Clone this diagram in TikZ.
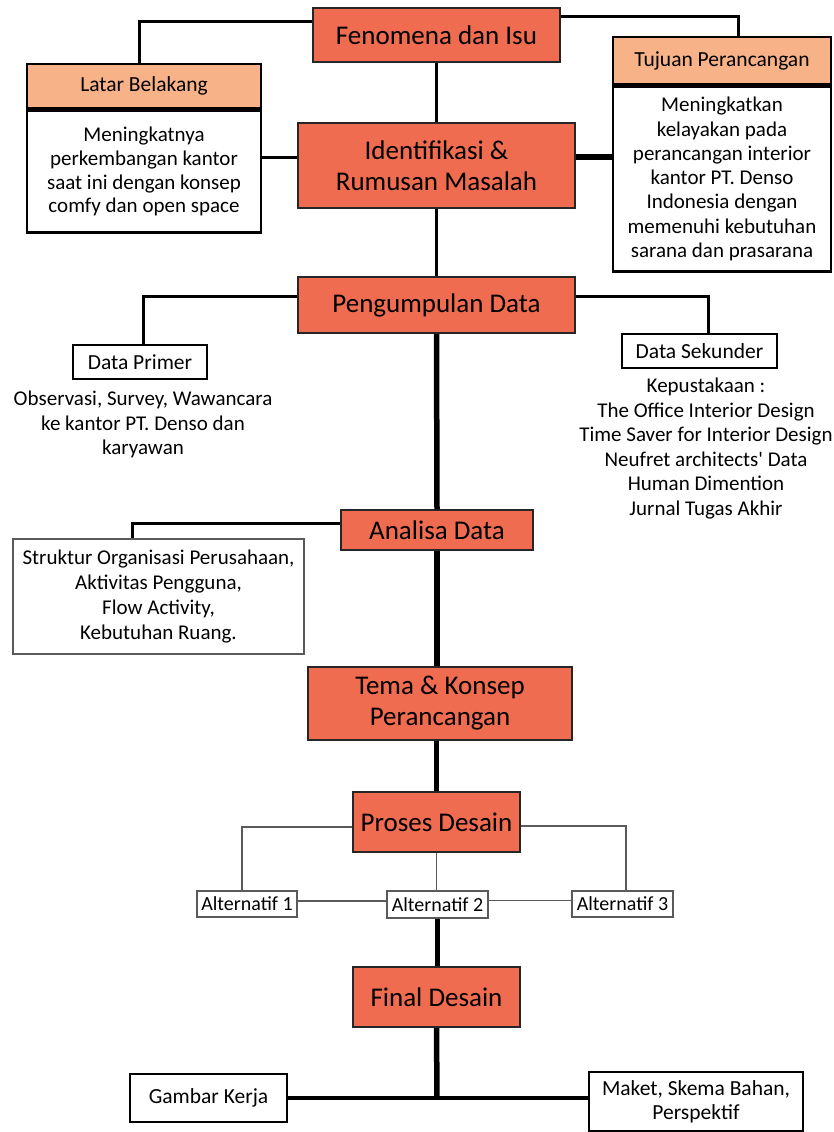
\documentclass[tikz,border=0pt]{standalone}
\usepackage{fontspec}
\setmainfont{Carlito}
\usetikzlibrary{calc}
\definecolor{mainor}{RGB}{240,108,80}
\definecolor{lightor}{RGB}{248,178,136}
\definecolor{thing}{RGB}{90,90,90}
\begin{document}
\begin{tikzpicture}[x=1pt,y=-1pt,
  mainbox/.style={draw=black!85,line width=2pt,fill=mainor,inner sep=0pt,align=center,font=\fontsize{27}{31}\selectfont},
  headbox/.style={draw=black,line width=2.5pt,fill=lightor,inner sep=0pt,align=center,font=\fontsize{21.5}{24}\selectfont},
  bodybox/.style={draw=black,line width=2.5pt,fill=white,inner sep=0pt,align=center,font=\fontsize{21}{23.8}\selectfont},
  labbox/.style={draw=black,line width=2.5pt,fill=white,inner sep=0pt,align=center,font=\fontsize{21.5}{24}\selectfont},
  graybox/.style={draw=thing,line width=1.3pt,fill=white,inner sep=0pt,align=center,font=\fontsize{21}{24.7}\selectfont},
  altbox/.style={draw=thing,line width=1.2pt,fill=white,inner sep=0pt,align=center,font=\fontsize{20}{22}\selectfont},
  freetxt/.style={inner sep=0pt,align=center,font=\fontsize{21}{24.5}\selectfont},
  conn/.style={draw=black,line width=3pt},
  thick conn/.style={draw=black,line width=5.5pt},
  thin conn/.style={draw=thing,line width=1.4pt}]
\useasboundingbox (0,0) rectangle (833,1132);
% boxes
\node[mainbox,minimum width=247pt,minimum height=54pt] (fen) at (436.5,35) {Fenomena dan Isu};
\node[headbox,minimum width=234pt,minimum height=44pt] (latH) at (144,86) {Latar Belakang};
\node[bodybox,minimum width=234pt,minimum height=122pt,anchor=north] (latB) at (latH.south) {Meningkatnya\\perkembangan kantor\\saat ini dengan konsep\\comfy dan open space};
\node[headbox,minimum width=218pt,minimum height=47pt] (tujH) at (722,60.5) {Tujuan Perancangan};
\node[bodybox,minimum width=218pt,minimum height=185pt,anchor=north,font=\fontsize{21}{24.3}\selectfont] (tujB) at (tujH.south) {Meningkatkan\\kelayakan pada\\perancangan interior\\kantor PT. Denso\\Indonesia dengan\\memenuhi kebutuhan\\sarana dan prasarana};
\node[mainbox,minimum width=277pt,minimum height=85pt] (ident) at (436.5,165.5) {Identifikasi \&\\Rumusan Masalah};
\node[mainbox,minimum width=277pt,minimum height=56pt] (peng) at (436.5,305) {Pengumpulan Data};
\node[labbox,minimum width=134pt,minimum height=34pt] (primer) at (140,362) {Data Primer};
\node[freetxt,anchor=north] (primerTxt) at (143,391) {Observasi, Survey, Wawancara\\ke kantor PT. Denso dan\\karyawan};
\node[labbox,minimum width=155pt,minimum height=34pt] (sek) at (699.5,351) {Data Sekunder};
\node[freetxt,anchor=north] (sekTxt) at (706,378) {Kepustakaan :\\The Office Interior Design\\Time Saver for Interior Design\\Neufret architects\textquotesingle{} Data\\Human Dimention\\Jurnal Tugas Akhir};
\node[mainbox,minimum width=192pt,minimum height=40pt] (ana) at (437,530) {Analisa Data};
\node[graybox,minimum width=291pt,minimum height=115pt] (str) at (158.5,596.5) {Struktur Organisasi Perusahaan,\\Aktivitas Pengguna,\\Flow Activity,\\Kebutuhan Ruang.};
\node[mainbox,minimum width=264pt,minimum height=73pt] (tema) at (440,703.5) {Tema \& Konsep\\Perancangan};
\node[mainbox,minimum width=167pt,minimum height=60pt] (pros) at (436.5,822) {Proses Desain};
\node[altbox,minimum width=100pt,minimum height=26pt] (alt1) at (247,904) {Alternatif 1};
\node[altbox,minimum width=101pt,minimum height=27pt] (alt2) at (437.5,904.5) {\raisebox{-3pt}{Alternatif 2}};
\node[altbox,minimum width=101pt,minimum height=26pt] (alt3) at (622.5,904) {Alternatif 3};
\node[mainbox,minimum width=167pt,minimum height=60pt] (fin) at (436.5,997) {Final Desain};
\node[labbox,minimum width=157pt,minimum height=48pt] (gam) at (208.5,1098) {Gambar Kerja};
\node[labbox,minimum width=214pt,minimum height=59pt] (mak) at (696,1101.5) {Maket, Skema Bahan,\\Perspektif};
\coordinate (junc) at (437,1098);
% connectors
\draw[conn] ([yshift=13pt]fen.west) -| ([xshift=-5pt]latH.north);
\draw[conn] ([yshift=18pt]fen.east) -| ([xshift=16pt]tujH.north);
\draw[conn] (fen.south) -- (ident.north);
\draw[conn] ([yshift=14pt]latB.east) coordinate (p1) -- (p1 -| ident.west);
\draw[thick conn] ([yshift=8.5pt]ident.east) coordinate (p2) -- (p2 -| tujB.west);
\draw[conn] (ident.south) -- (peng.north);
\draw[conn] ([yshift=9pt]peng.west) -| ([xshift=3pt]primer.north);
\draw[conn] ([yshift=9pt]peng.east) -| ([xshift=8.5pt]sek.north);
\draw[thick conn] (peng.south) -- (ana.north);
\draw[conn] ([yshift=7pt]ana.west) -| ([xshift=-26.5pt]str.north);
\draw[thick conn] (ana.south) -- (tema.north -| ana.south);
\draw[thick conn] (tema.south -| pros.north) -- (pros.north);
\draw[thin conn] ([yshift=-5pt]pros.west) -| ([xshift=-5pt]alt1.north);
\draw[thin conn] ([yshift=-4pt]pros.east) -| ([xshift=3.5pt]alt3.north);
\draw[thin conn] (pros.south) -- (pros.south |- alt2.north);
\draw[thin conn] ([yshift=3pt]alt1.east) coordinate (p3) -- (p3 -| alt2.west);
\draw[thin conn] ([yshift=4pt]alt2.east) coordinate (p4) -- (p4 -| alt3.west);
\draw[thick conn] (alt2.south) -- (alt2.south |- fin.north);
\draw[thick conn] (fin.south) -- (junc);
\draw[conn,line width=4pt] (gam.east) -- (gam.east -| mak.west);
\end{tikzpicture}
\end{document}
